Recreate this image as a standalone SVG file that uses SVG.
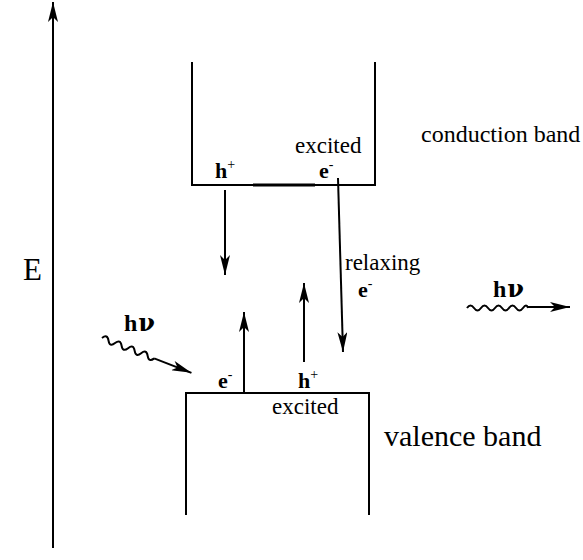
<svg xmlns="http://www.w3.org/2000/svg" width="583" height="560" viewBox="0 0 583 560">
<style>
  .ln { stroke: #000; stroke-width: 2; fill: none; }
  text { font-family: "Liberation Serif", "DejaVu Serif", serif; fill: #000; }
  .lbl { font-size: 24px; }
  .sm { font-size: 23px; }
  .b { font-size: 22px; font-weight: bold; }
  .sup { font-size: 14px; font-weight: normal; }
  .hv { font-size: 24px; font-weight: bold; letter-spacing: 1px; }
</style>
<defs>
  <marker id="ah" viewBox="0 0 20 10" refX="20" refY="5" markerWidth="20" markerHeight="10" markerUnits="userSpaceOnUse" orient="auto">
    <path d="M0,0 L20,5 L0,10 L5,5 Z" fill="#000"/>
  </marker>
</defs>
<rect width="583" height="560" fill="#fff"/>

<g id="axis">
  <line class="ln" x1="53" y1="548" x2="53" y2="2" marker-end="url(#ah)"/>
  <text x="23" y="280" font-size="31">E</text>
</g>

<g id="conduction-band">
  <path class="ln" d="M192,62 V185 H375 V62"/>
  <line x1="253" y1="185" x2="315" y2="185" stroke="#000" stroke-width="3"/>
  <text class="lbl" x="421" y="142">conduction band</text>
  <text class="sm" x="295" y="153">excited</text>
  <text class="b" x="215" y="178">h<tspan class="sup" dy="-9">+</tspan></text>
  <text class="b" x="319" y="178">e<tspan class="sup" dy="-9">-</tspan></text>
</g>

<g id="valence-band">
  <path class="ln" d="M186,515 V393 H369 V515"/>
  <text x="384" y="446" font-size="30">valence band</text>
  <text class="sm" x="272" y="414">excited</text>
  <text class="b" x="218" y="388">e<tspan class="sup" dy="-9">-</tspan></text>
  <text class="b" x="298" y="388">h<tspan class="sup" dy="-9">+</tspan></text>
</g>

<g id="labels">
  <text class="sm" x="345" y="270">relaxing</text>
  <text class="b" x="358" y="297">e<tspan class="sup" dy="-9">-</tspan></text>
  <text class="hv" x="124" y="331">h<tspan font-family="DejaVu Serif">ν</tspan></text>
  <text class="hv" x="493" y="297">h<tspan font-family="DejaVu Serif">ν</tspan></text>
</g>

<g id="connectors">
  <line class="ln" x1="225" y1="190" x2="225" y2="275" marker-end="url(#ah)"/>
  <line class="ln" x1="338" y1="178" x2="343" y2="352" marker-end="url(#ah)"/>
  <line class="ln" x1="244" y1="392" x2="244" y2="312" marker-end="url(#ah)"/>
  <line class="ln" x1="304" y1="362" x2="304" y2="283" marker-end="url(#ah)"/>
  <g transform="translate(102,338) rotate(21.3)">
    <path class="ln" d="M0,0 q3.5,-6 7,0 t7,0 t7,0 t7,0 t7,0 t7,0 t7,0 t7,0" stroke-width="1.6"/>
    <line class="ln" x1="56" y1="0" x2="96" y2="0" marker-end="url(#ah)"/>
  </g>
  <path class="ln" d="M467,308 q3.5,-5 7,0 t7,0 t7,0 t7,0 t7,0 t7,0 t7,0 t7,0 t5,0" stroke-width="1.6"/>
  <line class="ln" x1="528" y1="307" x2="570" y2="307" marker-end="url(#ah)"/>
</g>
</svg>
